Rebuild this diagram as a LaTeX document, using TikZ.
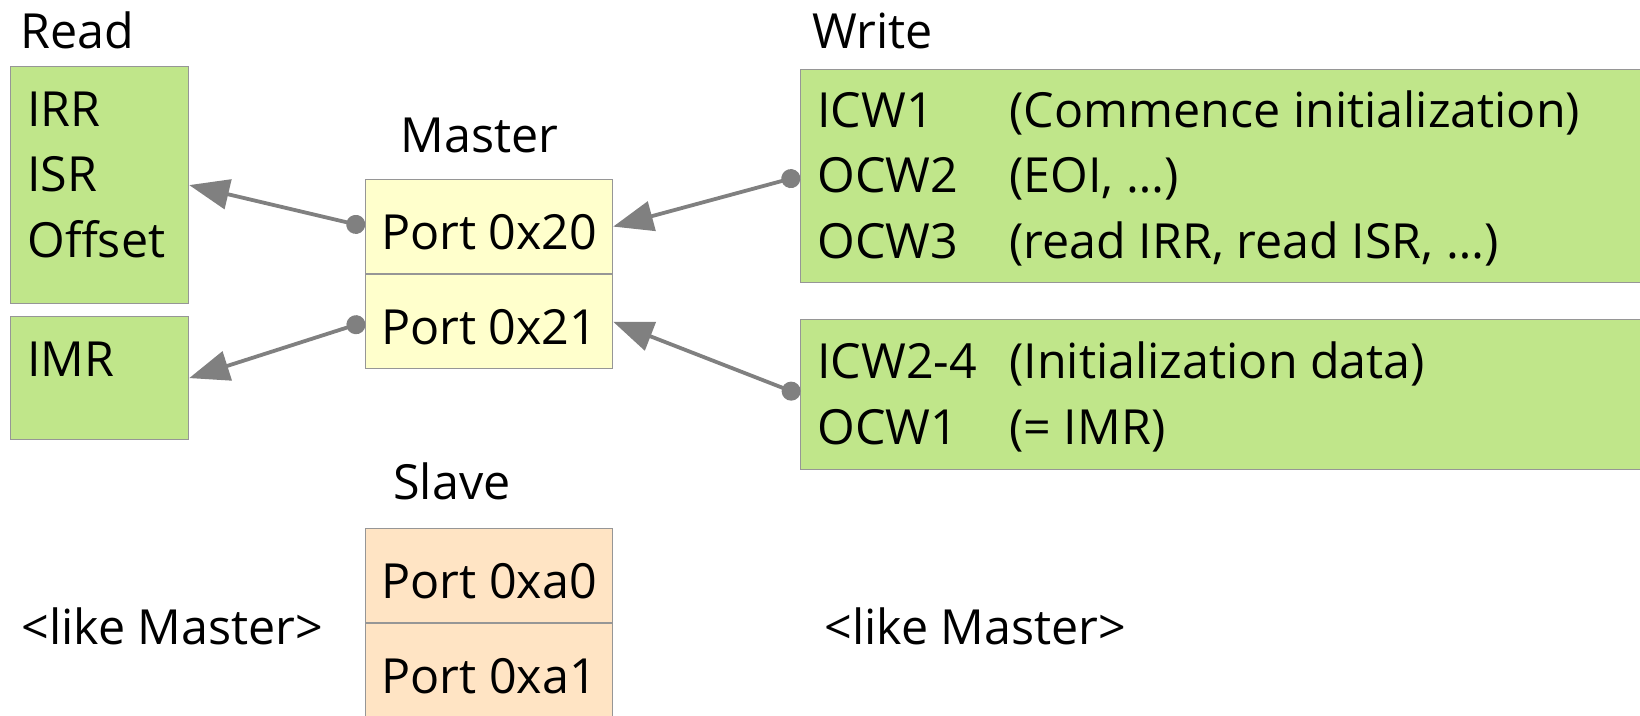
\documentclass[tikz,border=0pt]{standalone}
\usepackage{fontspec}
\setmainfont{Open Sans}
\usetikzlibrary{arrows.meta,positioning}
\definecolor{regfill}{RGB}{192,230,138}
\definecolor{masterfill}{RGB}{255,255,204}
\definecolor{slavefill}{RGB}{255,228,196}
\definecolor{edgegray}{RGB}{150,150,150}
\definecolor{wiregray}{RGB}{128,128,128}

\begin{document}
\begin{tikzpicture}[x=0.5pt, y=-0.5pt,
    every node/.style={font=\fontsize{24.2pt}{29pt}\selectfont, inner sep=0pt},
    regbox/.style={draw=edgegray, line width=0.6pt, fill=regfill, anchor=north west},
    portbox/.style={draw=edgegray, line width=0.6pt, anchor=north west,
      minimum width=123.5pt, minimum height=47pt, text height=23pt, text depth=0pt},
    txt/.style={anchor=base west},
    wire/.style={wiregray, line width=1.9pt,
      {Circle[length=9.5pt]}-{Triangle[length=20pt,width=15pt]}}]
  \clip (0,0) rectangle (1640,716);

  % read side
  \node[txt] (readlbl) at (20,49) {Read};
  \node[regbox, minimum width=89pt, minimum height=118.5pt] (readbox) at (10,66) {};
  \node[regbox, minimum width=89pt, minimum height=61.5pt] (imrbox) at (10,316) {};
  \foreach \reg [count=\i] in {IRR,ISR,Offset}
    \node[txt] (read\i) at (27,61+65.5*\i) {\reg};
  \node[txt] (imr) at (27,377) {IMR};

  % master ports
  \node[txt] (masterlbl) at (400,153) {Master};
  \node[portbox, fill=masterfill] (port20) at (365,179) {Port 0x20};
  \node[portbox, fill=masterfill, below=0pt of port20] (port21) {Port 0x21};

  % write side
  \node[txt] (writelbl) at (812,49) {Write};
  \node[regbox, minimum width=425pt, minimum height=106.5pt] (writeA) at (800,69) {};
  \node[regbox, minimum width=425pt, minimum height=75pt] (writeB) at (800,319) {};
  \foreach \reg/\desc [count=\i] in {ICW1/(Commence initialization),
      OCW2/{(EOI, …)}, OCW3/{(read IRR, read ISR, …)}} {
    \node[txt] (wa\i) at (817,62+65.5*\i) {\reg};
    \node[txt] (wadesc\i) at (1009,62+65.5*\i) {\desc};
  }
  \foreach \reg/\desc [count=\i] in {ICW2-4/(Initialization data), OCW1/(= IMR)} {
    \node[txt] (wb\i) at (817,313+66*\i) {\reg};
    \node[txt] (wbdesc\i) at (1009,313+66*\i) {\desc};
  }

  % slave ports
  \node[txt] (slavelbl) at (393,500) {Slave};
  \node[portbox, fill=slavefill] (portA0) at (365,528) {Port 0xa0};
  \node[portbox, fill=slavefill, below=0pt of portA0, minimum height=50pt, text height=20pt] (portA1) {Port 0xa1};
  \node[txt] (likeL) at (21,645) {<like Master>};
  \node[txt] (likeR) at (824,645) {<like Master>};

  % connections
  \draw[wire] (port20.west) -- (readbox.east);
  \draw[wire] (port21.west) -- (imrbox.east);
  \draw[wire] (writeA.west) -- (port20.east);
  \draw[wire] (writeB.west) -- (port21.east);
\end{tikzpicture}
\end{document}
